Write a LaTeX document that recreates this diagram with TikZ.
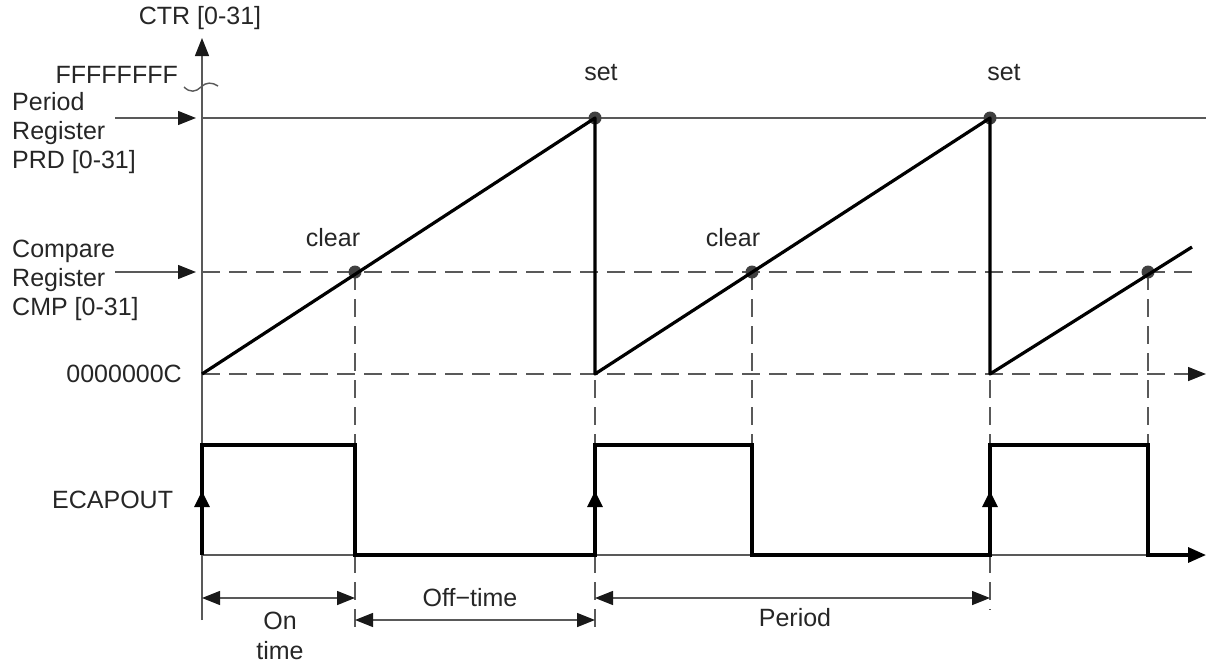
\documentclass[tikz,border=0pt]{standalone}
\usepackage{fontspec}
\setmainfont{Liberation Sans}
\usetikzlibrary{arrows.meta}
\begin{document}
\begin{tikzpicture}[x=1pt,y=-1pt,
  thinline/.style={line width=1.4pt, draw=black!65},
  thickline/.style={line width=3.2pt, draw=black},
  dashline/.style={line width=1.4pt, draw=black!65, dash pattern=on 18pt off 9pt},
  tip/.style={-{Triangle[length=18pt,width=14pt,color=black!90]}},
  dtip/.style={{Triangle[length=18pt,width=14pt,color=black!90]}-{Triangle[length=18pt,width=14pt,color=black!90]}},
  lbl/.style={font=\fontsize{25}{29}\selectfont, text=black!85, inner sep=0pt},
  dot/.style={circle, fill=black!75, minimum size=13pt, inner sep=0pt}]
\useasboundingbox (0,0) rectangle (1206,664);

% key coordinates
\coordinate (axb) at (202,620);
\coordinate (axt) at (202,38);
\coordinate (O) at (202,374);
\coordinate (B1) at (595,374);
\coordinate (B2) at (990,374);
\coordinate (E3) at (1192,247);
\coordinate (prdL) at (202,118);
\coordinate (prdR) at (1206,118);
\coordinate (cmpL) at (202,272);
\coordinate (cmpR) at (1200,272);
\coordinate (zR) at (1190,374);
\coordinate (zT) at (1206,374);

% horizontal reference lines
\draw[thinline] (prdL) -- (prdR);
\draw[dashline] (cmpL) -- (cmpR);
\draw[dashline] (O) -- (zR);
\draw[thinline, tip] (1184,374) -- (zT);

% vertical dashed lines
\draw[dashline] (355,272) -- (355,445);
\draw[dashline] (355,555) -- (355,628);
\draw[dashline] (752,272) -- (752,445);
\draw[dashline] (1148,272) -- (1148,445);
\draw[dashline] (595,380) -- (595,445);
\draw[dashline] (595,555) -- (595,628);
\draw[dashline] (990,380) -- (990,445);
\draw[dashline] (990,555) -- (990,610);

% axis
\draw[thinline, tip] (axb) -- (axt);
\draw[thinline] (184,87) .. controls (190,93) and (196,92) .. (201,87) .. controls (206,82) and (212,82) .. (218,86);

% register arrows
\coordinate (pa) at (115,118);
\coordinate (pb) at (196,118);
\coordinate (ca) at (115,272);
\coordinate (cb) at (196,272);
\draw[thinline, tip] (pa) -- (pb);
\draw[thinline, tip] (ca) -- (cb);

% dots
\node[dot] (S1) at (595,118) {};
\node[dot] (S2) at (990,118) {};
\node[dot] (C1) at (355,272) {};
\node[dot] (C2) at (752,272) {};
\node[dot] (C3) at (1148,272) {};

% sawtooth
\draw[thickline, line join=round] (O) -- (S1.center) -- (B1) -- (S2.center) -- (B2) -- (E3);

% ECAPOUT baseline
\draw[thinline] (202,555) -- (1180,555);
\draw[thickline, line join=miter] (202,555) -- (202,445) -- (355,445) -- (355,555) -- (595,555) -- (595,445) -- (752,445) -- (752,555) -- (990,555) -- (990,445) -- (1148,445) -- (1148,555) -- (1185,555);
\draw[thickline, -{Triangle[length=18pt,width=15pt]}] (1180,555) -- (1206,555);
\draw[thickline, -{Triangle[length=16pt,width=15pt]}] (202,530) -- (202,491);
\draw[thickline, -{Triangle[length=16pt,width=15pt]}] (595,530) -- (595,491);
\draw[thickline, -{Triangle[length=16pt,width=15pt]}] (990,530) -- (990,491);

% dimension arrows
\draw[thinline, dtip] (202,598) -- (355,598);
\draw[thinline, dtip] (355,620) -- (595,620);
\draw[thinline, dtip] (595,598) -- (990,598);

% labels
\node[lbl] (ctr) at (200,18) {CTR [0-31]};
\node[lbl, anchor=east] (ff) at (178,75) {FFFFFFFF};
\node[lbl, anchor=west, align=left] (prd) at (12,133) {Period\\Register\\PRD [0-31]};
\node[lbl, anchor=west, align=left] (cmp) at (12,280) {Compare\\Register\\CMP [0-31]};
\node[lbl, anchor=east] (zero) at (182,374) {0000000C};
\node[lbl, anchor=west] (ecap) at (52,500) {ECAPOUT};
\node[lbl] (set1) at (601,73) {set};
\node[lbl] (set2) at (1004,73) {set};
\node[lbl] (clr1) at (333,238) {clear};
\node[lbl] (clr2) at (733,238) {clear};
\node[lbl, align=center, font=\fontsize{25}{30}\selectfont] (ont) at (280,636) {On\\time};
\node[lbl] (offt) at (470,598) {Off−time};
\node[lbl] (per) at (795,618) {Period};
\end{tikzpicture}
\end{document}
